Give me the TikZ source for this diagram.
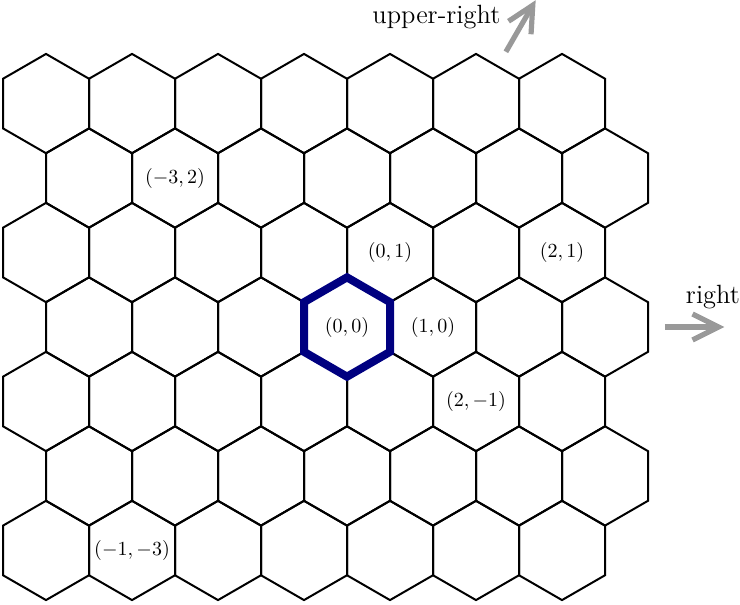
\documentclass[tikz,border=0pt]{standalone}
\usepackage{amsmath}
\usepackage{tikz}
\usetikzlibrary{arrows.meta}
\definecolor{hexnavy}{RGB}{0,0,128}
\tikzset{
  hexcell/.style={line width=1pt},
  hexhome/.style={hexnavy,line width=4pt},
  dirarrow/.style={black!40,line width=2.6pt,-{Straight Barb[length=13pt,width=13pt]}},
  dirlabel/.style={font=\fontsize{13.2}{16}\selectfont},
}

\begin{document}
\begin{tikzpicture}[scale=0.8725]
    \useasboundingbox (-6.989,-5.579) rectangle (7.915,6.586);
    \foreach \i in {0,...,6}
      \foreach \j in {0,...,6}
        \draw[hexcell] ({sqrt(3)*(\j-3.5+mod(\i,2)/2)},{1.5*(3-\i)}) +(30:1) -- +(90:1) -- +(150:1) -- +(210:1) -- +(270:1) -- +(330:1) -- cycle;
    \draw[hexhome] (0,0) +(30:1) -- +(90:1) -- +(150:1) -- +(210:1) -- +(270:1) -- +(330:1) -- cycle;
    \foreach \q/\r in {0/0,1/0,0/1,2/1,-3/2,2/-1,-1/-3}
      \node (c\q\r) at ({sqrt(3)*(\q+\r/2)},{1.5*\r}) {$(\q,\r)$};
    \coordinate (r0) at (0:6.4);
    \coordinate (r1) at (0:7.6);
    \coordinate (ur0) at (60:6.4);
    \coordinate (ur1) at (60:7.6);
    \draw[dirarrow] (r0) -- (r1);
    \draw[dirarrow] (ur0) -- (ur1);
    \node[dirlabel] (rlab) at (7.37,0.6) {right};
    \node[dirlabel] (urlab) at (1.8,6.25) {upper-right};
  \end{tikzpicture}
\end{document}
